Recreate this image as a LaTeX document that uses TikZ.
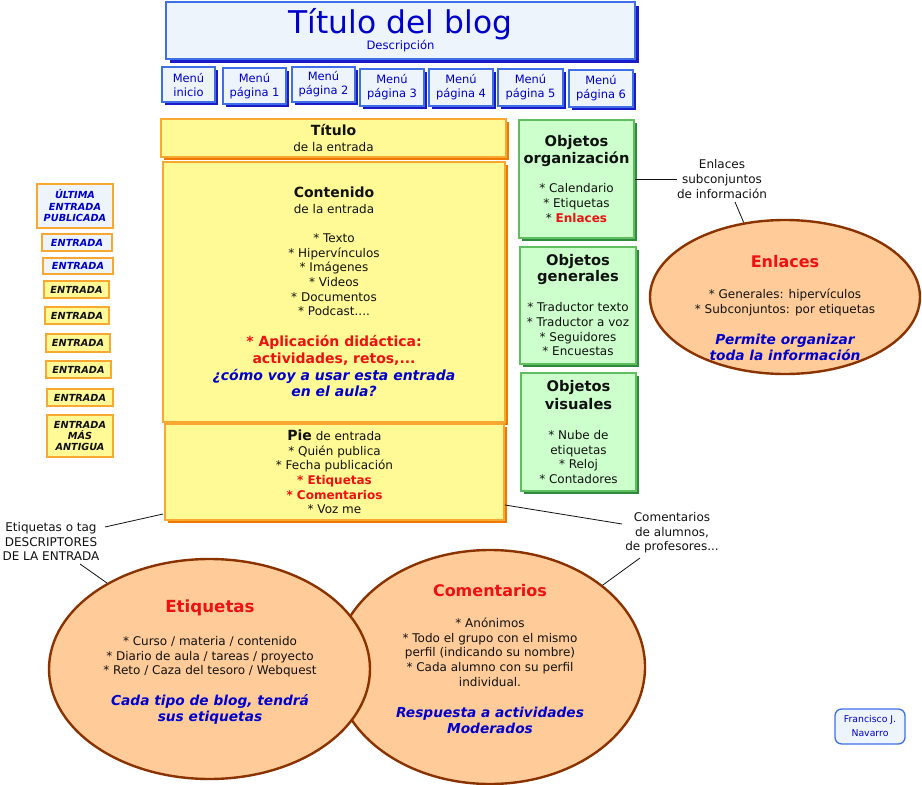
\documentclass[tikz,border=0pt]{standalone}
\usepackage{fontspec}
\setmainfont{DejaVu Sans}
\usetikzlibrary{shapes.geometric,shadows}
\definecolor{blueF}{HTML}{EEF4FB}
\definecolor{blueD}{HTML}{3F6FE8}
\definecolor{blueS}{HTML}{1A1AC8}
\definecolor{yelF}{HTML}{FFFA96}
\definecolor{yelD}{HTML}{F8A830}
\definecolor{yelS}{HTML}{F07800}
\definecolor{greF}{HTML}{CCFFCC}
\definecolor{greD}{HTML}{5FBF5F}
\definecolor{greS}{HTML}{2E8B3E}
\definecolor{ellF}{HTML}{FFCC99}
\definecolor{ellD}{HTML}{8B3300}
\definecolor{tblue}{HTML}{0000CC}
\definecolor{tred}{HTML}{EE1111}
\definecolor{txtc}{HTML}{111111}
\newcommand\myhd{\fontsize{10.5}{12}\selectfont\bfseries}
\newcommand\mygh{\fontsize{11}{13}\selectfont\bfseries}
\newcommand\myell{\fontsize{10.3}{12}\selectfont\bfseries\itshape\color{tblue}}
\begin{document}
\begin{tikzpicture}[x=0.75pt,y=-0.75pt,
  corners/.style args={#1/#2/#3/#4}{anchor=center,
     minimum width={(#3-#1)*0.75pt}, minimum height={(#4-#2)*0.75pt},
     at={({(#1+#3)/2},{(#2+#4)/2})}},
  txt/.style={inner sep=0, align=center, font=\fontsize{9}{11}\selectfont, text=txtc},
  titlebox/.style={draw=blueD, line width=1.5pt, fill=blueF, inner sep=0, align=center,
     font=\fontsize{8.7}{11}\selectfont, text=tblue,
     drop shadow={shadow xshift=3pt, shadow yshift=-3pt, fill=blueS, opacity=1}},
  menubox/.style={draw=blueD, line width=1.5pt, fill=blueF, inner sep=0, align=center,
     font=\fontsize{8.6}{10.5}\selectfont, text=tblue,
     drop shadow={shadow xshift=2.4pt, shadow yshift=-2.4pt, fill=blueS, opacity=1}},
  ybox/.style={draw=yelD, line width=1.5pt, fill=yelF, inner sep=0, align=center,
     font=\fontsize{9}{11}\selectfont, text=txtc,
     drop shadow={shadow xshift=2.4pt, shadow yshift=-2.4pt, fill=yelS, opacity=1}},
  gbox/.style={draw=greD, line width=0.8pt, fill=greF, inner sep=0, align=center,
     font=\fontsize{9}{11}\selectfont, text=txtc,
     drop shadow={shadow xshift=2.2pt, shadow yshift=-2.2pt, fill=greS, opacity=1}},
  lbox/.style={draw=yelD, line width=1.6pt, fill=#1, inner sep=0, align=center,
     font=\fontsize{7.3}{8.6}\selectfont\bfseries\itshape},
  ell/.style={ellipse, draw=ellD, line width=1.8pt, fill=ellF, inner sep=0},
  author/.style={draw=blueD, line width=1pt, fill=blueF, rounded corners=5pt, inner sep=0,
     align=center, font=\fontsize{7}{10.5}\selectfont, text=tblue},
  conn/.style={draw=txtc, line width=0.6pt}
]
\useasboundingbox (0,0) rectangle (922,785);

% ---- header
\node[titlebox, corners=166/2/635/59] (title)
  {{\fontsize{23.5}{26}\selectfont Título del blog}\\[-1pt] Descripción};
\node[menubox, corners=162/67/215/102] (m0) {Menú\\inicio};
\node[menubox, corners=223/68/286/104] (m1) {Menú\\página 1};
\node[menubox, corners=292/67/355/102] (m2) {Menú\\página 2};
\node[menubox, corners=360/69/424/106] (m3) {Menú\\página 3};
\node[menubox, corners=429/69/493/106] (m4) {Menú\\página 4};
\node[menubox, corners=498/69/563/106] (m5) {Menú\\página 5};
\node[menubox, corners=569/70/633/107] (m6) {Menú\\página 6};

% ---- entry
\node[ybox, corners=161/119/506/157] (tit) {{\myhd Título}\\[1pt] de la entrada};
\node[ybox, corners=163/162/505/422] (cont)
  {{\myhd Contenido}\\[1pt]
   de la entrada\\[10.5pt]
   {*} Texto\\ {*} Hipervínculos\\ {*} Imágenes\\ {*} Videos\\ {*} Documentos\\ {*} Podcast....\\[12pt]
   {\myhd\color{tred} * Aplicación didáctica:}\\[1.7pt]
   {\myhd\color{tred} actividades, retos,...}\\[1.7pt]
   {\myhd\itshape\color{tblue} ¿cómo voy a usar esta entrada}\\[1pt]
   {\myhd\itshape\color{tblue} en el aula?}};
\node[ybox, corners=165/424/504/520] (pie)
  {{\myhd Pie} de entrada\\ {*} Quién publica\\ {*} Fecha publicación\\
   {\bfseries\color{tred} * Etiquetas}\\ {\bfseries\color{tred} * Comentarios}\\ {*} Voz me};

% ---- green boxes
\node[gbox, corners=519/120/634/238] (org)
  {{\mygh Objetos}\\[1pt] {\mygh organización}\\[10.75pt]
   {*} Calendario\\[0.2pt] {*} Etiquetas\\[0.2pt] {*} {\bfseries\color{tred}Enlaces}};
\node[gbox, corners=520/247/636/364] (gen)
  {{\mygh Objetos}\\[1pt] {\mygh generales}\\[11.5pt]
   {*} Traductor texto\\ {*} Traductor a voz\\ {*} Seguidores\\ {*} Encuestas};
\node[gbox, corners=521/373/636/491] (vis)
  {{\mygh Objetos}\\[2.5pt] {\mygh visuales}\\[11.5pt]
   {*} Nube de\\ etiquetas\\ {*} Reloj\\ {*} Contadores};

% ---- left column
\node[lbox=blueF, text=tblue, corners=37/184/113/228] (e0) {ÚLTIMA\\ENTRADA\\PUBLICADA};
\node[lbox=blueF, text=tblue, corners=42/234/112/251] (e1) {ENTRADA};
\node[lbox=blueF, text=tblue, corners=43/258/113/274] (e2) {ENTRADA};
\node[lbox=yelF, text=txtc, corners=44/281/109/298] (e3) {ENTRADA};
\node[lbox=yelF, text=txtc, corners=45/307/109/324] (e4) {ENTRADA};
\node[lbox=yelF, text=txtc, corners=46/334/110/352] (e5) {ENTRADA};
\node[lbox=yelF, text=txtc, corners=46/361/111/378] (e6) {ENTRADA};
\node[lbox=yelF, text=txtc, corners=47/389/113/406] (e7) {ENTRADA};
\node[lbox=yelF, text=txtc, corners=47/415/113/457] (e8) {ENTRADA\\MÁS\\ANTIGUA};

% ---- ellipses
\node[ell, minimum width=232.5pt, minimum height=175.5pt] (com) at (490,667) {};
\node[ell, minimum width=240.75pt, minimum height=165pt] (etq) at (209.5,669) {};
\node[ell, minimum width=202.5pt, minimum height=115.5pt] (enl) at (785,297) {};

\node[txt, anchor=north] (enltxt) at (785,255)
  {{\fontsize{12}{14}\selectfont\bfseries\color{tred} Enlaces}\\[12.25pt]
   {*} Generales: hipervículos\\ {*} Subconjuntos: por etiquetas\\[12.25pt]
   {\myell Permite organizar}\\[1pt] {\myell toda la información}};
\node[txt, anchor=north] (etqtxt) at (210,600)
  {{\fontsize{12.5}{14}\selectfont\bfseries\color{tred} Etiquetas}\\[13.5pt]
   {*} Curso / materia / contenido\\ {*} Diario de aula / tareas / proyecto\\
   {*} Reto / Caza del tesoro / Webquest\\[12.25pt]
   {\myell Cada tipo de blog, tendrá}\\[1pt] {\myell sus etiquetas}};
\node[txt, anchor=north] (comtxt) at (490,584)
  {{\fontsize{12}{14}\selectfont\bfseries\color{tred} Comentarios}\\[12.25pt]
   {*} Anónimos\\ {*} Todo el grupo con el mismo\\ perfil (indicando su nombre)\\
   {*} Cada alumno con su perfil\\ individual.\\[12.25pt]
   {\myell Respuesta a actividades}\\[1pt] {\myell Moderados}};

% ---- callouts
\node[txt] (enlcall) at (722,179) {Enlaces\\subconjuntos\\de información};
\node[txt] (etqcall) at (51,541.5) {Etiquetas o tag\\DESCRIPTORES\\DE LA ENTRADA};
\node[txt] (comcall) at (672,533) {Comentarios\\de alumnos,\\de profesores...};

\coordinate (k1) at (735,202);
\coordinate (k2) at (163,514);
\coordinate (k3) at (105,527);
\coordinate (k4) at (80,564);
\coordinate (k5) at (505,505);
\coordinate (k6) at (622,524);
\coordinate (k7) at (640,558);

\draw[conn] (org.east |- enlcall.center) -- (enlcall.west |- enlcall.center);
\draw[conn] (k1) -- (enl.119.6);
\draw[conn] (k2) -- (k3);
\draw[conn] (k4) -- (etq.140.6);
\draw[conn] (k5) -- (k6);
\draw[conn] (k7) -- (com.36);

% ---- author
\node[author, corners=835/709/905/744] (auth) {Francisco J.\\Navarro};
\end{tikzpicture}
\end{document}
